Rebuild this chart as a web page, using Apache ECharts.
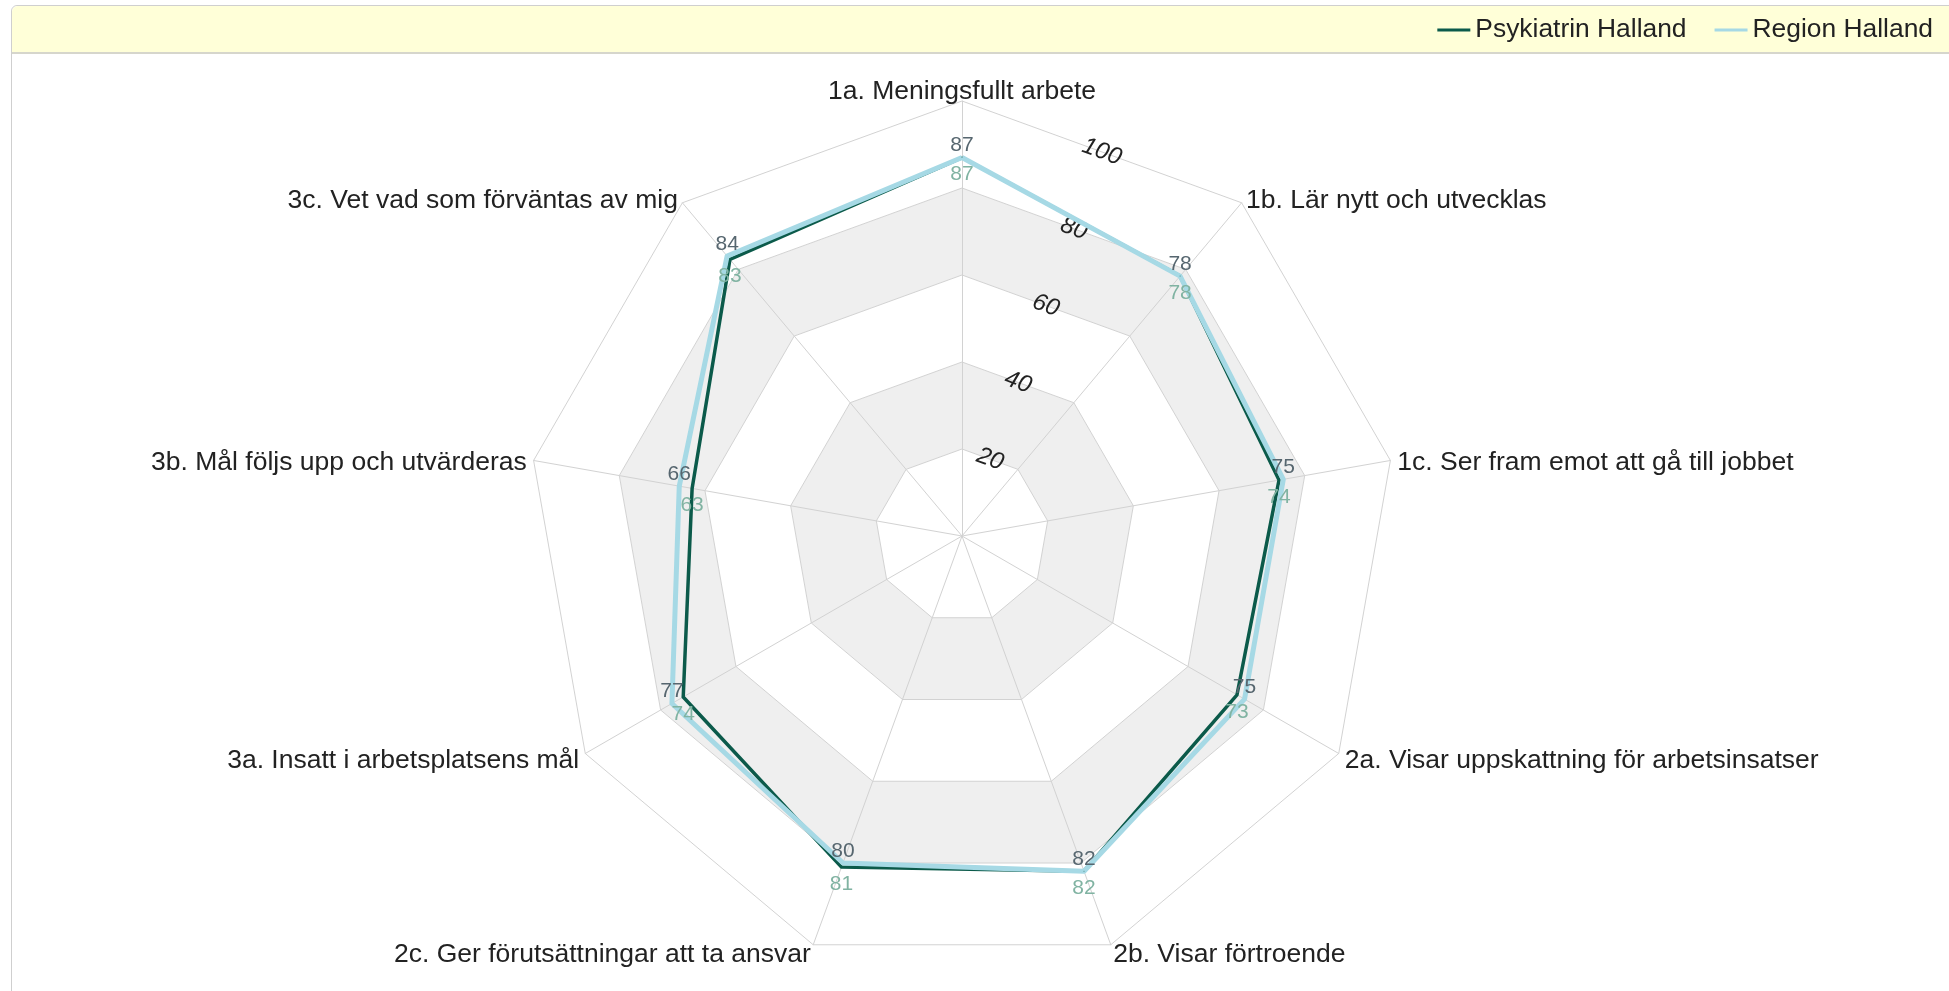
<!DOCTYPE html>
<html>
<head>
<meta charset="utf-8">
<script src="https://cdn.jsdelivr.net/npm/echarts@6/dist/echarts.min.js"></script>
<style>
  html, body { margin: 0; padding: 0; background: #fff; overflow: hidden; }
  .frame {
    position: absolute; left: 11px; top: 5px; width: 1960px; height: 1000px;
    border: 1px solid #cfcfcf; border-top-left-radius: 6px; box-sizing: border-box;
  }
  .header {
    height: 46px; background: #ffffd8; border-bottom: 2px solid #d6d6cc;
    border-top-left-radius: 6px;
  }
  #chart { position: absolute; left: 0; top: 0; width: 1949px; height: 991px; }
</style>
</head>
<body>
<div class="frame"><div class="header"></div></div>
<div id="chart"></div>
<script>
const indicators = [
  '1a. Meningsfullt arbete',
  '1b. Lär nytt och utvecklas',
  '1c. Ser fram emot att gå till jobbet',
  '2a. Visar uppskattning för arbetsinsatser',
  '2b. Visar förtroende',
  '2c. Ger förutsättningar att ta ansvar',
  '3a. Insatt i arbetsplatsens mål',
  '3b. Mål följs upp och utvärderas',
  '3c. Vet vad som förväntas av mig'
];
const psykiatrin = [87, 78, 74, 73, 82, 81, 74, 63, 83];
const region = [87, 78, 75, 75, 82, 80, 77, 66, 84];
const tickValues = [20, 40, 60, 80, 100];

const font = "'Liberation Sans', Arial, sans-serif";
const cx = 962, cy = 536, R = 435;

// ECharts radar runs counterclockwise; reorder so the picture reads clockwise
const order = indicators.map((_, i) => (i === 0 ? 0 : indicators.length - i));
const reorder = arr => order.map(i => arr[i]);

const chart = echarts.init(document.getElementById('chart'));
chart.setOption({
  animation: false,
  legend: {
    right: 11, top: 12,
    itemWidth: 33, itemHeight: 3, itemGap: 28, icon: 'rect',
    textStyle: { fontSize: 26.4, color: '#222', fontFamily: font },
    data: ['Psykiatrin Halland', 'Region Halland']
  },
  radar: {
    center: [cx, cy],
    radius: R,
    startAngle: 90,
    shape: 'polygon',
    splitNumber: 5,
    nameGap: 7,
    axisName: {
      color: '#222', fontSize: 26.5, fontFamily: font, padding: [7, 0, 0, 0],
      formatter: name => (name === indicators[0] ? '{top|' + name + '}' : name),
      rich: { top: { fontSize: 26.5, fontFamily: font, color: '#222', lineHeight: 4 } }
    },
    indicator: reorder(indicators).map(n => ({ name: n, min: 0, max: 100 })),
    axisLine: { lineStyle: { color: '#d2d2d2', width: 1 } },
    splitLine: { lineStyle: { color: '#d2d2d2', width: 1 } },
    splitArea: { show: true, areaStyle: { color: ['#ffffff', '#efefef', '#ffffff', '#efefef', '#ffffff'] } }
  },
  // polar system only used to place the rotated scale labels between 1a and 1b
  polar: { center: [cx, cy], radius: R * Math.cos(Math.PI / 9) },
  angleAxis: { type: 'value', startAngle: 70, show: false, min: 0, max: 360 },
  radiusAxis: {
    type: 'value', min: 0, max: 100, interval: 20,
    axisLine: { show: false }, axisTick: { show: false }, splitLine: { show: false },
    axisLabel: {
      rotate: -20, margin: 0, align: 'center', verticalAlign: 'middle',
      fontSize: 24, fontStyle: 'italic', color: '#222', fontFamily: font,
      formatter: v => (tickValues.includes(v) ? String(v) : '')
    }
  },
  series: [
    {
      name: 'Psykiatrin Halland',
      type: 'radar',
      symbol: 'circle', symbolSize: 1,
      itemStyle: { color: '#0b5a4a' },
      lineStyle: { color: '#0b5a4a', width: 3.5 },
      label: { show: true, position: 'bottom', distance: 6, color: '#80b3a2', fontSize: 21, fontFamily: font },
      data: [{ value: reorder(psykiatrin), name: 'Psykiatrin Halland' }]
    },
    {
      name: 'Region Halland',
      type: 'radar',
      symbol: 'circle', symbolSize: 1,
      itemStyle: { color: '#a6d9e5' },
      lineStyle: { color: '#a6d9e5', width: 5 },
      label: { show: true, position: 'top', distance: 1, color: '#56666f', fontSize: 21, fontFamily: font },
      data: [{ value: reorder(region), name: 'Region Halland' }]
    }
  ]
});
</script>
</body>
</html>
